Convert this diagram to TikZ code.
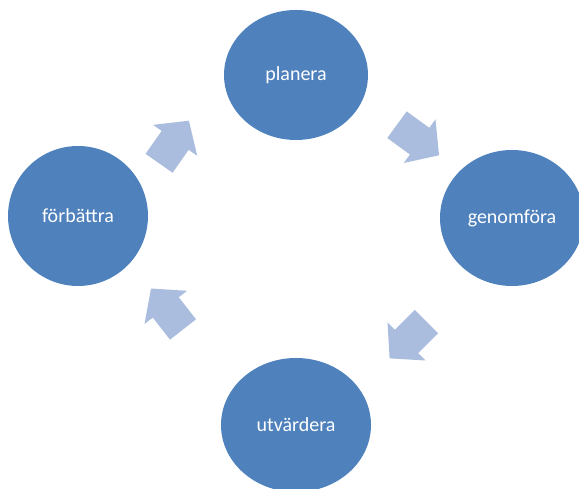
\documentclass[tikz,border=0pt]{standalone}
\usepackage{fontspec}
\setmainfont{Carlito}
\usetikzlibrary{shapes.geometric}
\definecolor{phaseblue}{RGB}{79,129,189}
\definecolor{arrowblue}{RGB}{171,189,222}
\begin{document}
\begin{tikzpicture}[x=1pt,y=1pt,
	phase/.style={ellipse,fill=phaseblue,text=white,inner sep=0pt,
		font=\fontsize{20}{24}\selectfont},
	cyclearrow/.style={fill=arrowblue}]
	\useasboundingbox(0,0)rectangle(579,489);
	\clip(0,0)rectangle(579,489);
	\node[phase,minimum width=144pt,minimum height=130pt](planera)at(296,414){planera};
	\node[phase,minimum width=144pt,minimum height=136pt](genomfora)at(512,271){genomföra};
	\node[phase,minimum width=150pt,minimum height=134pt](utvardera)at(296,64){utvärdera};
	\node[phase,minimum width=140pt,minimum height=140pt](forbattra)at(78,273){förbättra};
	% block arrows between the phases
	\foreach \pos/\ang in {(174,347)/55,(418,349)/-36,(408,149)/-135,(167,180)/128}
		\fill[cyclearrow,shift={\pos},rotate=\ang]
			(26,0)--(2,27)--(2,16.5)--(-26,16.5)--(-26,-16.5)--(2,-16.5)--(2,-27)--cycle;
\end{tikzpicture}
\end{document}
